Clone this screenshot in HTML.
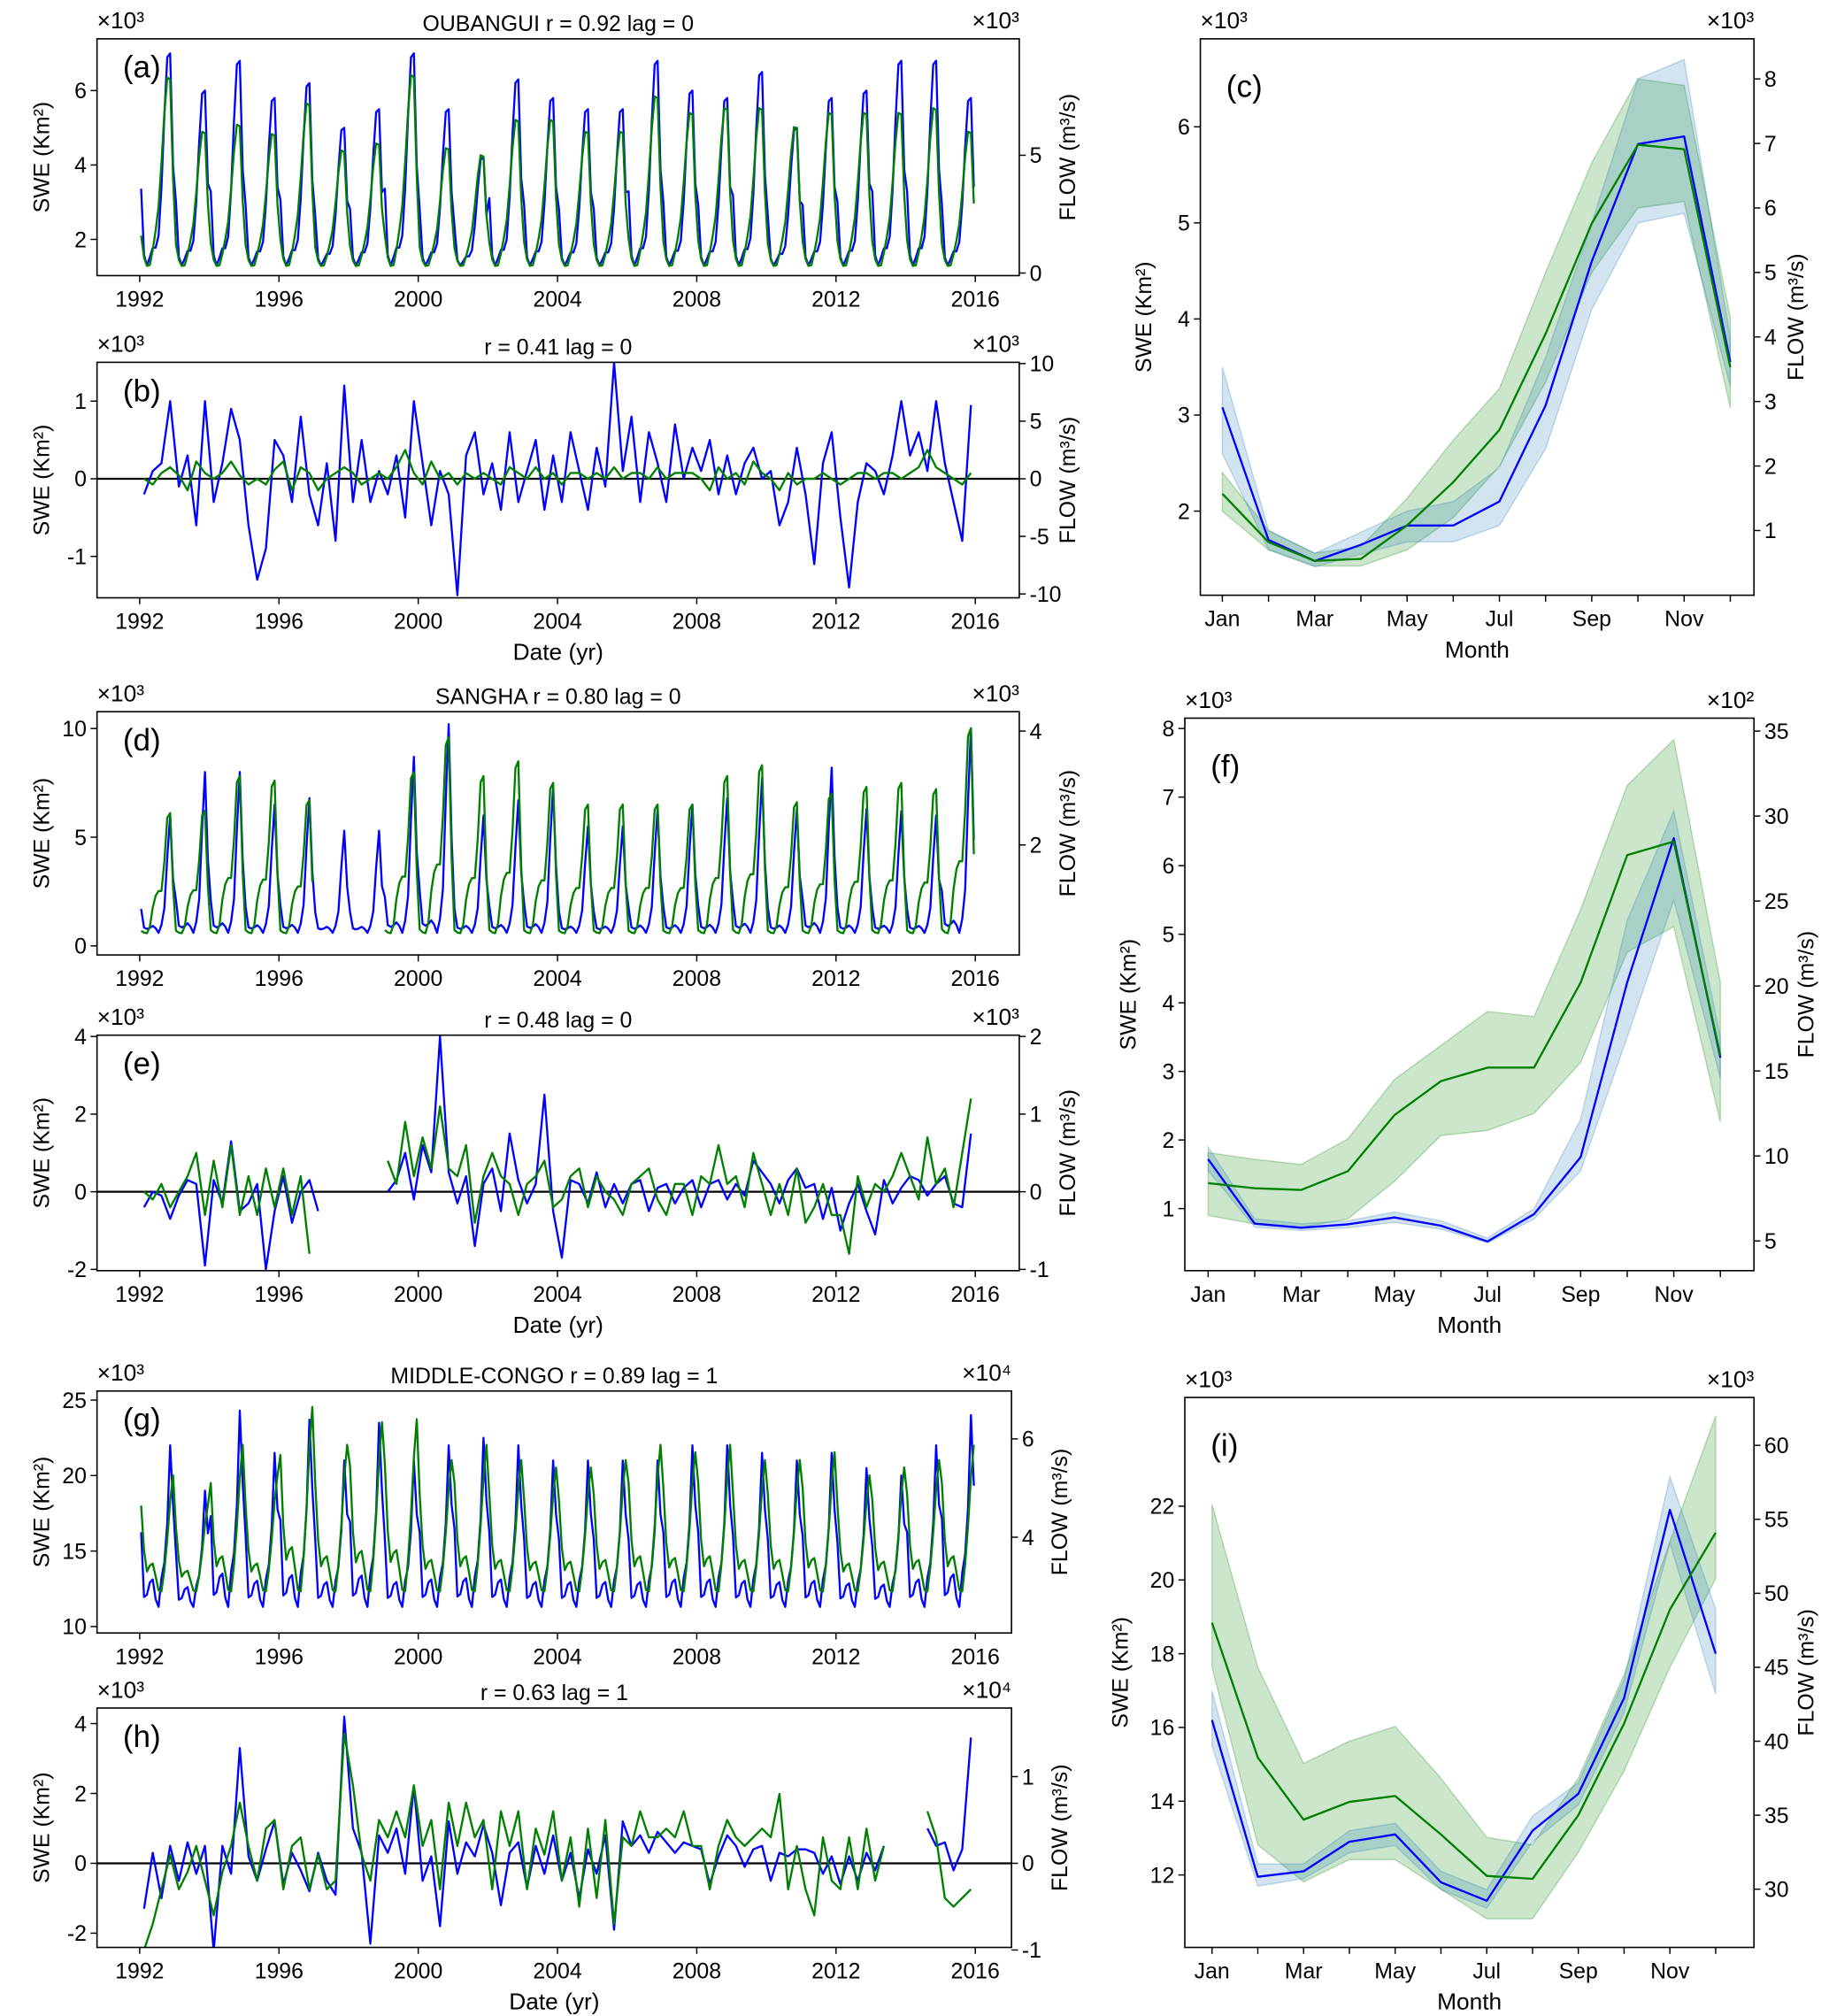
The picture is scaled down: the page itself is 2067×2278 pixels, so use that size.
<!DOCTYPE html>
<html><head><meta charset="utf-8">
<style>
html,body{margin:0;padding:0;background:#fff;}
svg{display:block;font-family:"Liberation Sans","DejaVu Sans",sans-serif;}
</style></head>
<body>
<svg id="fig" width="2067" height="2278" viewBox="0 0 1414 1558" preserveAspectRatio="none" xmlns="http://www.w3.org/2000/svg"></svg>
<script>
// ---------- DATA ----------
const years = [1992,1993,1994,1995,1996,1997,1998,1999,2000,2001,2002,2003,2004,2005,2006,2007,2008,2009,2010,2011,2012,2013,2014,2015];
const months = ['Jan','Feb','Mar','Apr','May','Jun','Jul','Aug','Sep','Oct','Nov','Dec'];
const yearTicks = [1992,1996,2000,2004,2008,2012,2016];

// (a) Oubangui annual peaks
const oubBluePeaks = [7.0,6.0,6.8,5.8,6.2,5.0,5.5,7.0,5.5,4.2,6.3,5.8,5.5,5.5,6.8,6.0,5.8,6.5,5.0,5.8,6.0,6.8,6.8,5.8];
const oubGreenPeaks = [8.3,6.0,6.3,5.9,7.2,5.2,5.5,8.4,5.3,5.0,6.5,6.5,6.0,6.0,7.5,6.8,7.0,7.0,6.2,6.8,6.8,6.8,7.0,6.0];
// (b) Oubangui anomalies (quarterly)
const oubBlueAnom = [-0.2,0.1,0.2,1.0, -0.1,0.3,-0.6,1.0, -0.3,0.2,0.9,0.5, -0.6,-1.3,-0.9,0.5, 0.3,-0.3,0.8,-0.2, -0.6,0.2,-0.8,1.2, -0.3,0.5,-0.3,0.1, -0.2,0.3,-0.5,1.0, 0.2,-0.6,0.1,-0.2, -1.5,0.3,0.6,-0.2, 0.2,-0.4,0.6,-0.3, 0.1,0.5,-0.4,0.3, -0.3,0.6,0.1,-0.4, 0.4,-0.1,1.5,0.1, 0.8,-0.3,0.6,0.2, -0.3,0.7,0.0,0.4, 0.1,0.5,-0.2,0.3, -0.2,0.2,0.4,0.0, 0.1,-0.6,-0.3,0.4, -0.2,-1.1,0.2,0.6, -0.5,-1.4,-0.3,0.2, 0.1,-0.2,0.3,1.0, 0.3,0.6,0.1,1.0, 0.2,-0.3,-0.8,0.95];
const oubGreenAnom = [0,-0.5,0.5,1.0, 0.3,-1,1.5,0.5, 0,0.5,1.5,0.3, -0.5,0,-0.5,0.8, 1.5,-1,1,0.5, -1,0,0.5,1, 0.5,-0.5,0,0.5, 0,1,2.5,0.5, -0.5,1.5,0,0.5, -0.5,0.5,0,0.5, 0,-0.5,1,0.5, 0,1,0,0.5, -0.5,0.5,0.5,0, 0.5,0,1,0, 0.5,0.5,0,1, 0,0.5,0.5,0.5, 0,-1,1,0, 0.5,-0.5,1.5,0.5, 0,-1,0.5,-0.5, 0,0,0.5,0, -0.5,0,0.5,0.5, 0,0.5,0.5,0, 0.5,1,2.5,1, 0.5,0,-0.5,0.5];
// (c) Oubangui climatology
const cBlue = [3.08,1.7,1.48,1.65,1.85,1.85,2.1,3.1,4.6,5.82,5.9,3.55];
const cBlueLo = [2.6,1.6,1.42,1.55,1.68,1.68,1.85,2.65,4.1,5.0,5.1,3.3];
const cBlueHi = [3.5,1.8,1.56,1.78,2.0,2.1,2.45,3.6,5.0,6.5,6.7,3.8];
const cGreen = [1.57,0.82,0.53,0.56,1.08,1.75,2.56,4.05,5.76,6.98,6.91,3.53];
const cGreenLo = [1.3,0.7,0.45,0.45,0.7,1.2,2.0,3.3,5.0,6.0,6.1,2.9];
const cGreenHi = [1.9,1.0,0.65,0.75,1.5,2.4,3.2,5.0,6.7,8.0,7.9,4.3];

// (d) Sangha annual peaks
const sanBluePeaks = [6,8,8,6.5,6.8,5.3,5.3,8.7,10.2,6.0,6.7,7.3,5.5,5.5,6.3,6.5,6.8,7.7,6.3,8.2,6.3,6.2,6.0,10];
const sanGreenPeaks = [2.56,2.6,3.21,3.13,2.79,null,null,3.28,3.89,3.21,3.47,3.09,2.71,2.71,2.71,2.71,3.21,3.4,2.75,2.9,3.02,3.09,2.98,4.05];
// (e) Sangha anomalies (quarterly)
const sanBlueAnom = [-0.4,0,-0.1,-0.7, -0.1,0.3,0.2,-1.9, 0.3,-0.3,1.3,-0.5, -0.3,0.2,-2.0,-0.5, 0.4,-0.8,0,0.3, -0.5,null,null,null, null,null,null,null, 0,0.3,1.0,-0.2, 1.2,0.5,4.0,0.5, -0.3,0.4,-1.4,0.2, 0.6,-0.5,1.5,0.3, -0.3,0.2,2.5,-0.5, -1.7,0.3,0.2,-0.3, 0.5,-0.4,0.2,-0.3, 0.2,0.3,-0.5,0.1, 0.2,-0.3,0.1,0.3, -0.4,0.2,0.3,-0.2, 0.2,-0.1,0.8,0.5, 0.2,-0.3,0.3,0.6, 0.1,0.2,-0.7,0.1, -1.0,-0.3,0.2,-0.5, -1.1,0.3,-0.3,0.1, 0.4,0.3,-0.1,0.2, 0.4,-0.3,-0.4,1.5];
const sanGreenAnom = [0,-0.1,0.1,-0.2, 0,0.2,0.5,-0.3, 0.4,-0.2,0.6,-0.3, 0.2,-0.3,0.3,-0.2, 0.3,-0.3,0.2,-0.8, null,null,null,null, null,null,null,null, 0.4,0.1,0.9,0.2, 0.7,0.3,1.1,0.3, 0.2,0.6,-0.4,0.2, 0.5,0.2,0.1,-0.3, 0.1,0.2,0.4,-0.2, -0.1,0.2,0.3,-0.2, 0.2,0.0,-0.1,-0.3, 0.1,0.2,0.3,-0.1, -0.3,0.1,0.1,-0.3, 0.2,0.1,0.6,0.1, 0.2,-0.2,0.5,0.1, -0.3,0.1,-0.3,0.3, -0.4,-0.2,0.1,-0.3, -0.3,-0.8,0.2,-0.2, 0.1,0,0.2,0.5, 0.2,-0.1,0.7,0.1, 0.3,-0.2,0.5,1.2];
// (f) Sangha climatology
const fBlue = [1.72,0.78,0.72,0.77,0.87,0.75,0.52,0.92,1.75,4.3,6.4,3.2];
const fBlueLo = [1.55,0.73,0.68,0.72,0.8,0.7,0.5,0.85,1.55,3.5,5.5,2.9];
const fBlueHi = [1.9,0.85,0.78,0.82,0.95,0.82,0.57,1.0,2.3,5.2,6.8,3.5];
const fGreen = [8.4,8.1,8.0,9.1,12.4,14.4,15.2,15.2,20.2,27.7,28.5,15.9];
const fGreenLo = [6.5,6.0,5.8,6.3,8.5,11.2,11.5,12.5,15.5,22,23.5,12];
const fGreenHi = [10.2,9.8,9.5,11.0,14.5,16.5,18.5,18.2,24.5,31.8,34.5,20.2];

// (g) Middle-Congo annual peaks
const mcBluePeaks = [22,19,24.3,21.5,23.7,21,23.5,21,22,22.5,22,21,21,21,21,22,22,21.5,21,21.5,20.5,20,22,24];
const mcGreenPeaks = [5.26,4.65,5.88,5.26,6.65,5.88,6.34,6.4,5.57,5.88,5.57,5.42,5.42,5.57,5.88,5.73,5.88,5.57,5.57,5.73,5.26,5.42,5.57,5.88];
// (h) Middle-Congo anomalies (quarterly)
const mcBlueAnom = [-1.3,0.3,-1.0,0.5, -0.5,0.6,-0.3,0.5, -2.5,0.5,-0.3,3.3, 0.2,-0.5,0.4,1.2, -0.6,0.3,-0.2,-0.8, 0.3,-0.5,-0.9,4.2, 1.0,0.3,-2.3,0.8, 0.3,1.0,-0.3,2.2, -0.5,0.2,-1.8,1.2, -0.3,0.6,0.2,1.1, 0.3,-1.2,0.3,0.6, -0.7,0.5,-0.3,0.8, -0.5,0.3,-1.0,0.4, -0.3,0.8,-1.9,1.2, 0.5,0.8,0.3,0.9, 0.6,0.3,0.6,0.5, 0.4,-0.6,0.2,0.8, 0.5,-0.1,0.4,0.5, -0.5,0.3,0.2,0.4, 0.4,0.3,-0.3,0.2, -0.6,0.2,-0.5,0.3, -0.2,0.5,null,null, null,null,1.0,0.5, 0.6,-0.2,0.4,3.6];
const mcGreenAnom = [-1.0,-0.7,-0.3,0.1, -0.3,-0.1,0.2,-0.2, -0.6,-0.1,0.2,0.7, 0.2,-0.2,0.4,0.5, -0.3,0.2,0.3,-0.3, 0.1,-0.3,-0.2,1.5, 0.9,0.1,-0.2,0.5, 0.3,0.6,0.3,0.9, 0.2,0.5,-0.3,0.7, 0.2,0.7,0.3,0.5, -0.3,0.6,0.2,0.6, -0.3,0.4,0.1,0.6, -0.2,0.3,-0.5,0.4, -0.4,0.5,-0.7,0.3, 0.2,0.6,0.3,0.3, 0.4,0.3,0.6,0.2, 0.2,-0.3,0.2,0.5, 0.3,0.2,0.3,0.4, 0.3,0.8,-0.3,0.2, -0.3,-0.6,0.3,-0.2, -0.3,0.3,-0.3,0.4, -0.2,0.2,null,null, null,null,0.6,0.3, -0.4,-0.5,-0.4,-0.3];
// (i) Middle-Congo climatology
const iBlue = [16.2,11.95,12.1,12.9,13.1,11.8,11.3,13.2,14.2,16.8,21.9,18.0];
const iBlueLo = [15.5,11.7,11.9,12.6,12.8,11.6,11.1,12.9,13.9,16.4,21.0,16.9];
const iBlueHi = [17.0,12.3,12.3,13.2,13.4,12.1,11.6,13.6,14.5,17.3,22.8,19.2];
const iGreen = [48.0,38.9,34.7,35.9,36.3,33.7,30.9,30.7,35.0,41.2,48.9,54.1];
const iGreenLo = [45,33,30.5,32,32,30,28,28,32.5,38,45,51];
const iGreenHi = [56,45,38.5,40,41,37.5,33.5,33,37.5,44.5,53.5,62];

// ---------- HELPERS ----------
const NS='http://www.w3.org/2000/svg';
const svg=document.getElementById('fig');
const BLUE='#0000ff', GREEN='#008000';
const FS=17;
function mk(tag,attrs,parent){const e=document.createElementNS(NS,tag);for(const k in attrs)e.setAttribute(k,attrs[k]);(parent||svg).appendChild(e);return e;}
function lin(v0,p0,v1,p1){return v=>p0+(v-v0)*(p1-p0)/(v1-v0);}
function txt(s,x,y,size,anchor,g,rot){const t=mk('text',{x:x,y:y,'font-size':size,'text-anchor':anchor||'middle',fill:'#000'},g);if(rot)t.setAttribute('transform','rotate('+rot+' '+x+' '+y+')');t.textContent=s;return t;}
function pathFrom(xs,vals,X,Y){let d='',pen=false;for(let i=0;i<vals.length;i++){if(vals[i]===null||vals[i]===undefined){pen=false;continue;}d+=(pen?'L':'M')+X(xs[i]).toFixed(2)+' '+Y(vals[i]).toFixed(2);pen=true;}return d;}
function norm(a){const mn=Math.min(...a),mx=Math.max(...a);return a.map(v=>(v-mn)/(mx-mn));}
function seasonal(peaks,base,shape){const out=[];peaks.forEach(p=>{shape.forEach(s=>{out.push(p===null?null:base+(p-base)*s);});});return out;}
const monthX=[];years.forEach(y=>{for(let m=0;m<12;m++)monthX.push(y+(m+0.5)/12);});
const qX=[];years.forEach(y=>{for(let q=0;q<4;q++)qX.push(y+(q+0.5)/4);});

function frame(g,P){
  const r=mk('rect',{x:P.x0,y:P.y0,width:P.x1-P.x0,height:P.y1-P.y0,fill:'none',stroke:'#000','stroke-width':1.1},g);
  
  
}
function yAxisL(g,P,Y,ticks){ticks.forEach(v=>{const y=Y(v);mk('line',{x1:P.x0-5,x2:P.x0,y1:y,y2:y,stroke:'#000'},g);const t=txt(String(v),P.x0-8,y+6,FS,'end',g);});}
function yAxisR(g,P,Y,ticks){ticks.forEach(v=>{const y=Y(v);mk('line',{x1:P.x1,x2:P.x1+5,y1:y,y2:y,stroke:'#000'},g);const t=txt(String(v),P.x1+8,y+6,FS,'start',g);});}
function labels(g,P,lx,rx,lexp,rexp){
  const cy=(P.y0+P.y1)/2;
  const a=txt('SWE (Km²)',lx,cy,FS,'middle',g,-90);
  const b=txt('FLOW (m³/s)',rx,cy,FS,'middle',g,-90);
  const e1=txt('×10'+lexp,P.x0,P.y0-8,18,'start',g);
  const e2=txt('×10'+rexp,P.x1,P.y0-8,18,'end',g);
}
function panelLetter(g,s,x,y){const t=txt(s,x,y,24,'start',g);}
function series(g,xs,vals,X,Y,color,name){const p=mk('path',{d:pathFrom(xs,vals,X,Y),fill:'none',stroke:color,'stroke-width':1.6,'stroke-linejoin':'round'},g);}
function band(g,lo,hi,X,Y,color,name){let d='';for(let i=0;i<lo.length;i++)d+=(i?'L':'M')+X(i)+' '+Y(hi[i]);for(let i=lo.length-1;i>=0;i--)d+='L'+X(i)+' '+Y(lo[i]);d+='Z';const p=mk('path',{d:d,fill:color,'fill-opacity':0.2,stroke:color,'stroke-opacity':0.25},g);}

function tsPanel(id,P,L,R,bv,bx,gv,gx,opts){
  const g=mk('g',{});
  
  
  const X=lin(1992,P.xa,2016,P.xb);
  const YL=lin(L.v0,L.p0,L.v1,L.p1), YR=lin(R.v0,R.p0,R.v1,R.p1);
  const clip=mk('clipPath',{id:'clip-'+id},g);mk('rect',{x:P.x0,y:P.y0,width:P.x1-P.x0,height:P.y1-P.y0},clip);
  const inner=mk('g',{'clip-path':'url(#clip-'+id+')'},g);
  if(opts.zero){const z=mk('line',{x1:P.x0,x2:P.x1,y1:YL(0),y2:YL(0),stroke:'#000','stroke-width':1.5},inner);}
  series(inner,bx,bv,X,YL,BLUE,'swe-series');
  series(inner,gx,gv,X,YR,GREEN,'flow-series');
  frame(g,P);
  yAxisL(g,P,YL,L.ticks);yAxisR(g,P,YR,R.ticks);
  yearTicks.forEach(yr=>{const x=X(yr);mk('line',{x1:x,x2:x,y1:P.y1,y2:P.y1+5,stroke:'#000'},g);const t=txt(String(yr),x,P.y1+24,FS,'middle',g);});
  const tt=txt(opts.title,(P.x0+P.x1)/2,P.y0-6,FS,'middle',g);
  if(opts.date){const d=txt('Date (yr)',(P.x0+P.x1)/2,P.y1+48,18,'middle',g);}
  labels(g,P,P.x0-37,P.x1+43,opts.lexp,opts.rexp);
  panelLetter(g,opts.letter,P.x0+20,P.y0+30);
}
function climPanel(id,P,L,R,mx0,mdx,blue,bl,bh,green,gl,gh,opts){
  const g=mk('g',{});
  
  
  const X=i=>mx0+i*mdx;
  const YL=lin(L.v0,L.p0,L.v1,L.p1), YR=lin(R.v0,R.p0,R.v1,R.p1);
  band(g,gl,gh,X,YR,GREEN,'flow-band');
  band(g,bl,bh,X,YL,'#1f77b4','swe-band');
  const idx=blue.map((_,i)=>i);
  series(g,idx,blue,X,YL,BLUE,'swe-climatology');
  series(g,idx,green,X,YR,GREEN,'flow-climatology');
  frame(g,P);
  yAxisL(g,P,YL,L.ticks);yAxisR(g,P,YR,R.ticks);
  months.forEach((m,i)=>{const x=X(i);mk('line',{x1:x,x2:x,y1:P.y1,y2:P.y1+5,stroke:'#000'},g);if(i%2===0){const t=txt(m,x,P.y1+24,FS,'middle',g);}});
  const mt=txt('Month',(P.x0+P.x1)/2,P.y1+48,18,'middle',g);
  labels(g,P,opts.lx,P.x1+(opts.rOff||38),opts.lexp,opts.rexp);
  panelLetter(g,opts.letter,P.x0+20,P.y0+45);
}

// ---------- BUILD ----------
const oubBS=norm(cBlue), oubGS=norm(cGreen), sanBS=norm(fBlue), sanGS=norm(fGreen), mcBS=norm(iBlue), mcGS=norm(iGreen);

tsPanel('panel-a',{x0:75,x1:788,y0:30,y1:213,xa:108,xb:754},{v0:2,p0:185,v1:6,p1:70,ticks:[2,4,6]},{v0:0,p0:211,v1:5,p1:120,ticks:[0,5]},
  seasonal(oubBluePeaks,1.3,oubBS),monthX,seasonal(oubGreenPeaks,0.3,oubGS),monthX,{title:'OUBANGUI r = 0.92 lag = 0',lexp:'³',rexp:'³',letter:'(a)'});
tsPanel('panel-b',{x0:75,x1:788,y0:280,y1:462,xa:108,xb:754},{v0:0,p0:370,v1:1,p1:310,ticks:[-1,0,1]},{v0:0,p0:370,v1:5,p1:325.5,ticks:[-10,-5,0,5,10]},
  oubBlueAnom,qX,oubGreenAnom,qX,{title:'r = 0.41 lag = 0',lexp:'³',rexp:'³',letter:'(b)',zero:true,date:true});
climPanel('panel-c',{x0:928,x1:1356,y0:30,y1:460},{v0:2,p0:395,v1:6,p1:98,ticks:[2,3,4,5,6]},{v0:1,p0:410,v1:8,p1:61,ticks:[1,2,3,4,5,6,7,8]},945,35.7,
  cBlue,cBlueLo,cBlueHi,cGreen,cGreenLo,cGreenHi,{lx:890,lexp:'³',rexp:'³',letter:'(c)'});

tsPanel('panel-d',{x0:75,x1:788,y0:550,y1:738,xa:108,xb:754},{v0:0,p0:731,v1:10,p1:563,ticks:[0,5,10]},{v0:2,p0:653,v1:4,p1:565,ticks:[2,4]},
  seasonal(sanBluePeaks,0.6,sanBS),monthX,seasonal(sanGreenPeaks,0.45,sanGS),monthX,{title:'SANGHA r = 0.80 lag = 0',lexp:'³',rexp:'³',letter:'(d)'});
tsPanel('panel-e',{x0:75,x1:788,y0:800,y1:982,xa:108,xb:754},{v0:0,p0:921,v1:2,p1:861,ticks:[-2,0,2,4]},{v0:0,p0:921,v1:1,p1:861,ticks:[-1,0,1,2]},
  sanBlueAnom,qX,sanGreenAnom,qX,{title:'r = 0.48 lag = 0',lexp:'³',rexp:'³',letter:'(e)',zero:true,date:true});
climPanel('panel-f',{x0:916,x1:1356,y0:555,y1:982},{v0:1,p0:934,v1:8,p1:563,ticks:[1,2,3,4,5,6,7,8]},{v0:5,p0:959,v1:35,p1:565,ticks:[5,10,15,20,25,30,35]},934,36,
  fBlue,fBlueLo,fBlueHi,fGreen,fGreenLo,fGreenHi,{lx:878,lexp:'³',rexp:'²',letter:'(f)',rOff:46});

tsPanel('panel-g',{x0:75,x1:782,y0:1075,y1:1262,xa:108,xb:754},{v0:10,p0:1257,v1:25,p1:1082,ticks:[10,15,20,25]},{v0:4,p0:1188,v1:6,p1:1112,ticks:[4,6]},
  seasonal(mcBluePeaks,11.3,mcBS),monthX,seasonal(mcGreenPeaks,2.9,mcGS),monthX,{title:'MIDDLE-CONGO r = 0.89 lag = 1',lexp:'³',rexp:'⁴',letter:'(g)'});
tsPanel('panel-h',{x0:75,x1:782,y0:1320,y1:1505,xa:108,xb:754},{v0:0,p0:1440,v1:2,p1:1386,ticks:[-2,0,2,4]},{v0:0,p0:1440,v1:1,p1:1373,ticks:[-1,0,1]},
  mcBlueAnom,qX,mcGreenAnom,qX,{title:'r = 0.63 lag = 1',lexp:'³',rexp:'⁴',letter:'(h)',zero:true,date:true});
climPanel('panel-i',{x0:916,x1:1356,y0:1080,y1:1505},{v0:12,p0:1449,v1:22,p1:1164,ticks:[12,14,16,18,20,22]},{v0:30,p0:1460,v1:60,p1:1117,ticks:[30,35,40,45,50,55,60]},937,35.4,
  iBlue,iBlueLo,iBlueHi,iGreen,iGreenLo,iGreenHi,{lx:872,lexp:'³',rexp:'³',letter:'(i)',rOff:46});
</script>
</body></html>
